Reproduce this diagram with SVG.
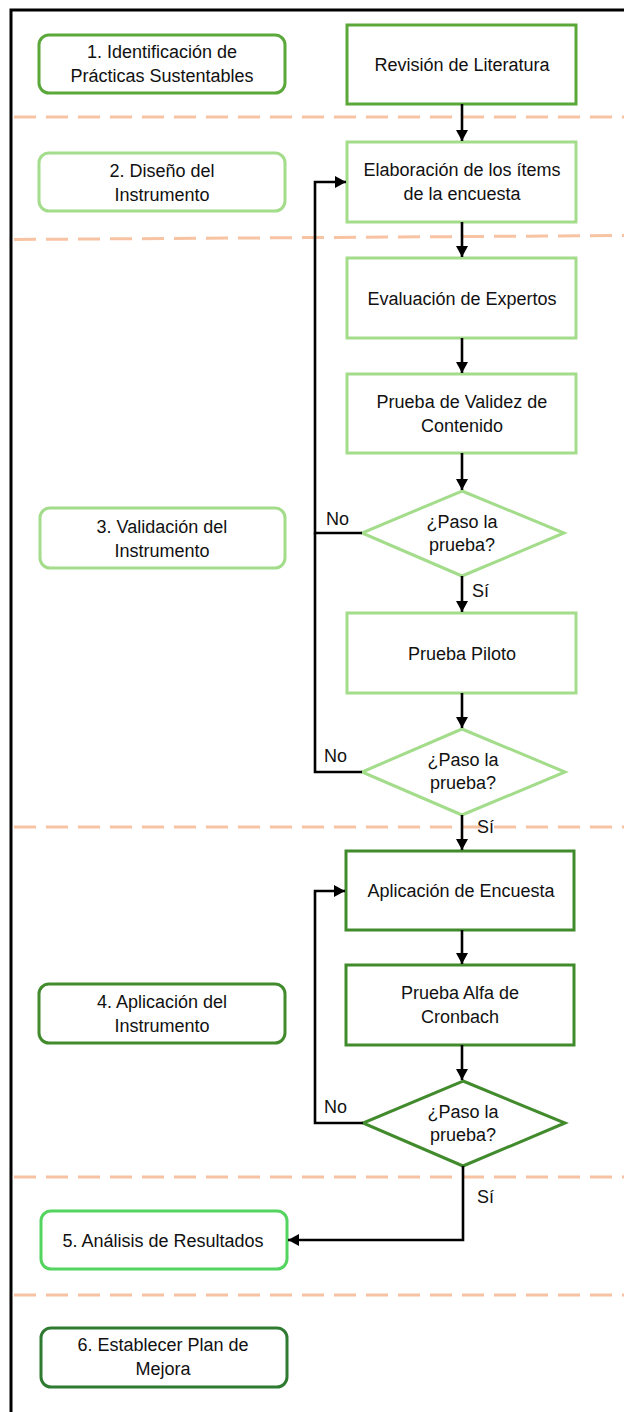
<svg xmlns="http://www.w3.org/2000/svg" width="624" height="1412" viewBox="0 0 624 1412">
<style>
text{font-family:"Liberation Sans",Arial,sans-serif;font-size:18px;fill:#111;text-anchor:middle}
.lbl{text-anchor:start}
.frame{stroke:#000;stroke-width:3;fill:none}
.dash{stroke:#F7C3A3;stroke-width:3;stroke-dasharray:22 10;fill:none}
.phase{fill:#fff;stroke-width:3}
.box{fill:#fff;stroke-width:3}
.c-mid{stroke:#5AA83A}
.c-light{stroke:#A3DC8A}
.c-dark{stroke:#418B2D}
.c-bright{stroke:#52D45E}
.c-deep{stroke:#2E7A30}
.conn path{stroke:#000;stroke-width:2.6;fill:none}
</style>
<defs>
<marker id="arr" markerUnits="userSpaceOnUse" markerWidth="12" markerHeight="12" viewBox="0 0 12 12" refX="11" refY="6" orient="auto">
<path d="M0,0 L11,6 L0,12 Z" fill="#000"/>
</marker>
</defs>
<rect width="624" height="1412" fill="#fff"/>
<g id="frame">
<path class="frame" d="M11,1412 V10 H624"/>
</g>
<g id="lanes">
<path class="dash" d="M14,117 H624"/>
<path class="dash" d="M14,239.5 L624,235.5"/>
<path class="dash" d="M14,827 H624"/>
<path class="dash" d="M14,1177 H624"/>
<path class="dash" d="M14,1295 H624"/>
</g>
<g id="phase1"><rect class="phase c-mid" x="39" y="35" width="246" height="58" rx="10"/><text x="162" y="58">1. Identificación de</text><text x="162" y="82">Prácticas Sustentables</text></g>
<g id="phase2"><rect class="phase c-light" x="39" y="153" width="246" height="58" rx="10"/><text x="162" y="177">2. Diseño del</text><text x="162" y="201">Instrumento</text></g>
<g id="phase3"><rect class="phase c-light" x="40" y="508" width="245" height="60" rx="10"/><text x="162" y="533">3. Validación del</text><text x="162" y="557">Instrumento</text></g>
<g id="phase4"><rect class="phase c-dark" x="39" y="984" width="246" height="59" rx="10"/><text x="162" y="1008">4. Aplicación del</text><text x="162" y="1032">Instrumento</text></g>
<g id="phase5"><rect class="phase c-bright" x="41" y="1211" width="246" height="58" rx="10"/><text x="163" y="1247">5. Análisis de Resultados</text></g>
<g id="phase6"><rect class="phase c-deep" x="41" y="1328" width="246" height="59" rx="10"/><text x="163" y="1351">6. Establecer Plan de</text><text x="163" y="1375">Mejora</text></g>

<g id="revision"><rect class="box c-mid" x="347" y="25" width="229" height="79"/><text x="462" y="71">Revisión de Literatura</text></g>
<g id="elaboracion"><rect class="box c-light" x="347" y="142" width="229" height="80"/><text x="462" y="176">Elaboración de los ítems</text><text x="462" y="200">de la encuesta</text></g>
<g id="evaluacion"><rect class="box c-light" x="347" y="258" width="229" height="80"/><text x="462" y="305">Evaluación de Expertos</text></g>
<g id="validez"><rect class="box c-light" x="347" y="374" width="229" height="79"/><text x="462" y="408">Prueba de Validez de</text><text x="462" y="432">Contenido</text></g>
<g id="decision1"><polygon class="box c-light" points="462,491 564,533 462,576 362,533"/><text x="462" y="528">¿Paso la</text><text x="462" y="551">prueba?</text></g>
<g id="piloto"><rect class="box c-light" x="347" y="613" width="229" height="80"/><text x="462" y="660">Prueba Piloto</text></g>
<g id="decision2"><polygon class="box c-light" points="462,729 565,772 462,815 362,772"/><text x="463" y="766">¿Paso la</text><text x="463" y="789">prueba?</text></g>
<g id="aplicacion"><rect class="box c-dark" x="346" y="851" width="228" height="79"/><text x="461" y="897">Aplicación de Encuesta</text></g>
<g id="alfa"><rect class="box c-dark" x="346" y="965" width="228" height="80"/><text x="460" y="999">Prueba Alfa de</text><text x="460" y="1023">Cronbach</text></g>
<g id="decision3"><polygon class="box c-dark" points="463,1081 565,1123 463,1166 363,1123"/><text x="463" y="1118">¿Paso la</text><text x="463" y="1141">prueba?</text></g>

<g id="connectors" class="conn">
<path d="M462,104 V141" marker-end="url(#arr)"/>
<path d="M462,222 V257" marker-end="url(#arr)"/>
<path d="M462,338 V373" marker-end="url(#arr)"/>
<path d="M462,453 V490" marker-end="url(#arr)"/>
<path d="M462,576 V612" marker-end="url(#arr)"/>
<path d="M462,693 V728" marker-end="url(#arr)"/>
<path d="M462,815 V850" marker-end="url(#arr)"/>
<path d="M462,930 V964" marker-end="url(#arr)"/>
<path d="M462,1045 V1080" marker-end="url(#arr)"/>
<path d="M362,533 H315 V182 H346" marker-end="url(#arr)"/>
<path d="M362,772 H315 V533"/>
<path d="M363,1123 H315 V891 H345" marker-end="url(#arr)"/>
<path d="M463,1166 V1240 H288" marker-end="url(#arr)"/>
</g>
<g id="labels">
<text class="lbl" x="326" y="525">No</text>
<text class="lbl" x="472" y="597">Sí</text>
<text class="lbl" x="324" y="762">No</text>
<text class="lbl" x="477" y="833">Sí</text>
<text class="lbl" x="324" y="1113">No</text>
<text class="lbl" x="477" y="1203">Sí</text>
</g>
</svg>
